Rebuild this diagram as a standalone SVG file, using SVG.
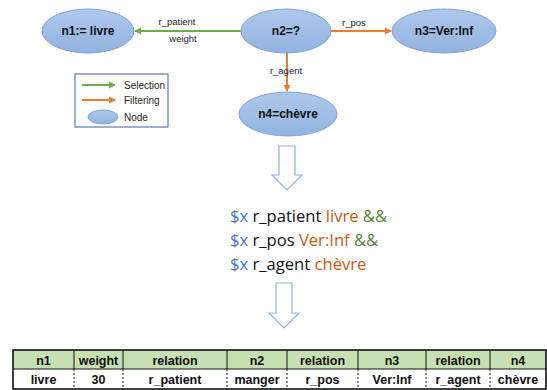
<svg xmlns="http://www.w3.org/2000/svg" width="547" height="390" viewBox="0 0 547 390">
<style>
.node{fill:url(#g);stroke:#7fa3d6;stroke-width:1}
.nt{font-family:"Liberation Sans",Arial,sans-serif;font-weight:bold;font-size:12px;fill:#111;text-anchor:middle}
.lbl{font-family:"Liberation Sans",Arial,sans-serif;font-size:9.5px;fill:#222;text-anchor:middle}
.leg{font-family:"Liberation Sans",Arial,sans-serif;font-size:10px;fill:#222}
.sel{stroke:#70ad47;stroke-width:2;fill:none}
.fil{stroke:#ed7d31;stroke-width:2;fill:none}
.q{font-family:"Open Sans","Liberation Sans",sans-serif;font-size:16.6px;fill:#111}
.b{fill:#4472c4}.o{fill:#c55a11}.gr{fill:#548235}
.bar{fill:#fff;stroke:#8db3e2;stroke-width:1.2}
.th{font-family:"Liberation Sans",Arial,sans-serif;font-weight:bold;font-size:12.5px;fill:#111;text-anchor:middle}
</style>
<defs>
<linearGradient id="g" x1="0" y1="0" x2="0" y2="1"><stop offset="0" stop-color="#aec8ea"/><stop offset="1" stop-color="#92b3e0"/></linearGradient>
<marker id="ag" markerWidth="8" markerHeight="8" refX="6" refY="4" orient="auto" markerUnits="userSpaceOnUse"><path d="M0,0.5 L7,4 L0,7.5 z" fill="#70ad47"/></marker>
<marker id="ao" markerWidth="8" markerHeight="8" refX="6" refY="4" orient="auto" markerUnits="userSpaceOnUse"><path d="M0,0.5 L7,4 L0,7.5 z" fill="#ed7d31"/></marker>
</defs>
<g id="connectors">
<line class="sel" x1="241" y1="31" x2="135" y2="31" marker-end="url(#ag)"/>
<text class="lbl" x="177" y="25">r_patient</text>
<text class="lbl" x="183" y="42">weight</text>
<line class="fil" x1="331" y1="31" x2="391" y2="31" marker-end="url(#ao)"/>
<text class="lbl" x="354" y="26">r_pos</text>
<line class="fil" x1="287" y1="52" x2="287" y2="91" marker-end="url(#ao)"/>
<text class="lbl" x="286" y="74">r_agent</text>
</g>
<g id="n1"><ellipse class="node" cx="88" cy="31" rx="46" ry="22"/><text class="nt" x="88" y="35">n1:= livre</text></g>
<g id="n2"><ellipse class="node" cx="286" cy="31" rx="45" ry="22"/><text class="nt" x="286" y="35">n2=?</text></g>
<g id="n3"><ellipse class="node" cx="444" cy="31" rx="52" ry="22"/><text class="nt" x="444" y="35">n3=Ver:Inf</text></g>
<g id="n4"><ellipse class="node" cx="288" cy="114" rx="49" ry="22"/><text class="nt" x="288" y="118">n4=chèvre</text></g>
<g id="legend">
<rect x="75" y="74" width="93" height="53" fill="#fff" stroke="#3f5f9e" stroke-width="1"/>
<line class="sel" x1="82" y1="85" x2="115" y2="85" marker-end="url(#ag)"/>
<line class="fil" x1="82" y1="100" x2="115" y2="100" marker-end="url(#ao)"/>
<ellipse class="node" cx="103" cy="117" rx="15" ry="7"/>
<text class="leg" x="124" y="89">Selection</text>
<text class="leg" x="124" y="104">Filtering</text>
<text class="leg" x="124" y="121">Node</text>
</g>
<g id="arrow1"><path class="bar" d="M279,146 H295 V175 H302 L287,190 L272,175 H279 Z"/></g>
<g id="query">
<text class="q" x="230" y="222"><tspan class="b">$x</tspan> r_patient <tspan class="o">livre</tspan> <tspan class="gr">&amp;&amp;</tspan></text>
<text class="q" x="230" y="246"><tspan class="b">$x</tspan> r_pos <tspan class="o">Ver:Inf</tspan> <tspan class="gr">&amp;&amp;</tspan></text>
<text class="q" x="230" y="270"><tspan class="b">$x</tspan> r_agent <tspan class="o">chèvre</tspan></text>
</g>
<g id="arrow2"><path class="bar" d="M276,283 H292 V313 H299 L284,328 L269,313 H276 Z"/></g>
<g id="table">
<rect x="13" y="350" width="533" height="19" fill="#c6e0b4"/>
<rect x="13" y="369" width="533" height="20" fill="#fff"/>
<g stroke="#111" stroke-width="1">
<line x1="74" y1="350" x2="74" y2="369"/><line x1="123" y1="350" x2="123" y2="369"/><line x1="227" y1="350" x2="227" y2="369"/><line x1="287" y1="350" x2="287" y2="369"/><line x1="358" y1="350" x2="358" y2="369"/><line x1="426" y1="350" x2="426" y2="369"/><line x1="490" y1="350" x2="490" y2="369"/>
<line x1="13" y1="369" x2="546" y2="369"/>
</g>
<g stroke="#111" stroke-width="1" stroke-dasharray="2,2">
<line x1="74" y1="369" x2="74" y2="389"/><line x1="123" y1="369" x2="123" y2="389"/><line x1="227" y1="369" x2="227" y2="389"/><line x1="287" y1="369" x2="287" y2="389"/><line x1="358" y1="369" x2="358" y2="389"/><line x1="426" y1="369" x2="426" y2="389"/><line x1="490" y1="369" x2="490" y2="389"/>
</g>
<rect x="13" y="350" width="533" height="39" fill="none" stroke="#111" stroke-width="1.6"/>
<text class="th" x="43.5" y="365">n1</text><text class="th" x="98.5" y="365">weight</text><text class="th" x="175" y="365">relation</text><text class="th" x="257" y="365">n2</text><text class="th" x="322.5" y="365">relation</text><text class="th" x="392" y="365">n3</text><text class="th" x="458" y="365">relation</text><text class="th" x="518" y="365">n4</text>
<text class="th" x="43.5" y="384">livre</text><text class="th" x="98.5" y="384">30</text><text class="th" x="175" y="384">r_patient</text><text class="th" x="257" y="384">manger</text><text class="th" x="322.5" y="384">r_pos</text><text class="th" x="392" y="384">Ver:Inf</text><text class="th" x="458" y="384">r_agent</text><text class="th" x="518" y="384">chèvre</text>
</g>
</svg>
